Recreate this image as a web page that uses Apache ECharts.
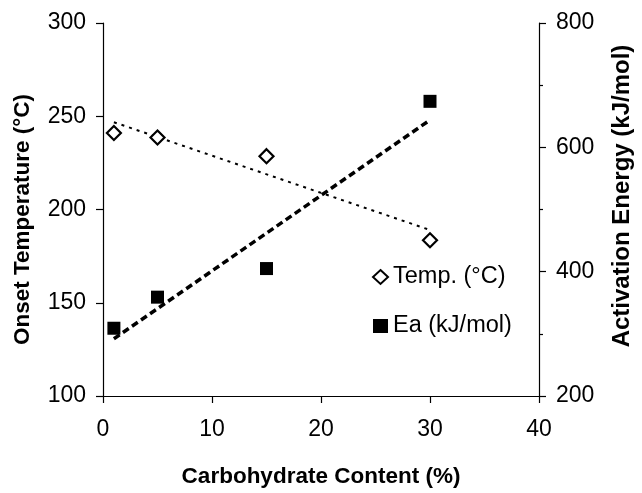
<!DOCTYPE html>
<html>
<head>
<meta charset="utf-8">
<script src="https://cdn.jsdelivr.net/npm/echarts@6/dist/echarts.min.js"></script>
<style>
  html, body { margin: 0; padding: 0; background: #fff; overflow: hidden; }
  #chart { width: 642px; height: 493px; }
</style>
</head>
<body>
<div id="chart"></div>
<script>
// Carbohydrate content (%) of each sample
const carbContent = [1, 5, 15, 30];
// Onset temperature (°C), left axis
const onsetTemp = [241, 238.6, 228.6, 183.5];
// Activation energy (kJ/mol), right axis
const activationEnergy = [309, 359, 405, 674];
// Linear trend lines: [x, y] end points
const tempTrend = [[1, 246.8], [30, 189]];
const eaTrend = [[1, 292], [30, 644]];

const FONT = '"Liberation Sans", Arial, Helvetica, sans-serif';
const chart = echarts.init(document.getElementById('chart'), null, { renderer: 'canvas' });

const pairs = (xs, ys) => xs.map((x, i) => [x, ys[i]]);

const axisBase = {
  axisLine: { show: true, lineStyle: { color: '#000', width: 1.2 } },
  axisTick: { show: true, inside: false, length: 7, lineStyle: { color: '#000', width: 1.2 } },
  axisLabel: { color: '#000', fontSize: 23, fontFamily: FONT },
  splitLine: { show: false },
  nameTextStyle: { color: '#000', fontSize: 22.5, fontWeight: 'bold', fontFamily: FONT }
};

chart.setOption({
  animation: false,
  backgroundColor: '#fff',
  grid: { left: 103, right: 95, top: 23, bottom: 89, containLabel: false },
  legend: {
    orient: 'vertical',
    left: 367,
    top: 260,
    itemGap: 25,
    itemWidth: 15,
    itemHeight: 14,
    textStyle: { color: '#000', fontSize: 23.5, fontFamily: FONT },
    data: [
      { name: 'Temp. (°C)', icon: 'diamond' },
      { name: 'Ea (kJ/mol)', icon: 'rect' }
    ]
  },
  xAxis: Object.assign({}, axisBase, {
    type: 'value',
    min: 0, max: 40, interval: 10,
    name: 'Carbohydrate Content (%)',
    nameLocation: 'middle',
    nameGap: 69,
    axisLabel: Object.assign({}, axisBase.axisLabel, { margin: 22 })
  }),
  yAxis: [
    Object.assign({}, axisBase, {
      type: 'value',
      position: 'left',
      min: 100, max: 300, interval: 50,
      name: 'Onset Temperature (°C)',
      nameLocation: 'middle',
      nameRotate: 90,
      nameGap: 69,
      nameTextStyle: Object.assign({}, axisBase.nameTextStyle, { padding: [0, 20, 0, 0] }),
      axisLabel: Object.assign({}, axisBase.axisLabel, { margin: 17 })
    }),
    Object.assign({}, axisBase, {
      type: 'value',
      position: 'right',
      min: 200, max: 800, interval: 200,
      name: 'Activation Energy (kJ/mol)',
      nameLocation: 'middle',
      nameRotate: 90,
      nameGap: 71,
      nameTextStyle: Object.assign({}, axisBase.nameTextStyle, { fontSize: 24, padding: [0, 0, 0, 27] }),
      minorTick: { show: true, splitNumber: 2, length: 4, lineStyle: { color: '#000', width: 1.2 } },
      axisLabel: Object.assign({}, axisBase.axisLabel, { margin: 17 })
    })
  ],
  series: [
    { name: 'tempTrend', type: 'line', yAxisIndex: 0, data: tempTrend, symbol: 'none', silent: true,
      lineStyle: { color: '#000', width: 2, type: [3, 5] }, z: 1 },
    { name: 'eaTrend', type: 'line', yAxisIndex: 1, data: eaTrend, symbol: 'none', silent: true,
      lineStyle: { color: '#000', width: 3.5, type: [7, 4] }, z: 1 },
    { name: 'Temp. (°C)', type: 'scatter', yAxisIndex: 0, data: pairs(carbContent, onsetTemp),
      symbol: 'diamond', symbolSize: 14,
      itemStyle: { color: '#fff', borderColor: '#000', borderWidth: 2.2, opacity: 1 }, z: 3 },
    { name: 'Ea (kJ/mol)', type: 'scatter', yAxisIndex: 1, data: pairs(carbContent, activationEnergy),
      symbol: 'rect', symbolSize: 13, itemStyle: { color: '#000', opacity: 1 }, z: 3 }
  ]
});
</script>
</body>
</html>
